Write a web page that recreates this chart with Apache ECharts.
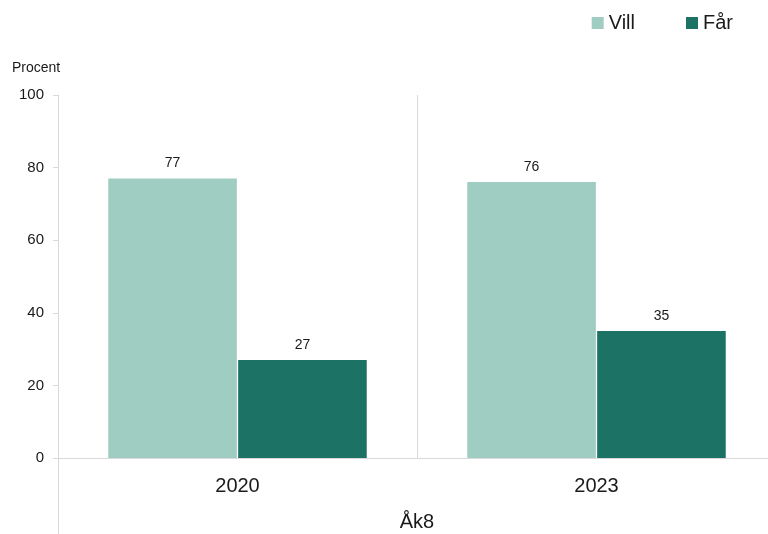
<!DOCTYPE html>
<html>
<head>
<meta charset="utf-8">
<script src="https://cdn.jsdelivr.net/npm/echarts@6/dist/echarts.min.js"></script>
<style>html,body{margin:0;padding:0;background:#fff}#c{width:768px;height:534px}</style>
</head>
<body>
<div id="c"></div>
<script>
const categories = ['2020', '2023'];
const groupLabel = ['Åk8'];
const seriesNames = ['Vill', 'Får'];
const villValues = [77, 76];
const farValues = [27, 35];

const FONT = '"Liberation Sans", Arial, sans-serif';
const LINE = '#d9d9d9';
const TXT = '#1a1a1a';

const chart = echarts.init(document.getElementById('c'));
chart.setOption({
  animation: false,
  textStyle: { fontFamily: FONT },
  legend: {
    right: 30, top: 8,
    itemWidth: 12, itemHeight: 12, itemGap: 51,
    icon: 'rect',
    textStyle: { fontSize: 20, color: TXT, fontFamily: FONT },
    data: seriesNames
  },
  grid: [
    { left: 58, width: 718, top: 95, bottom: 76, outerBoundsMode: 'none', containLabel: false },
    { left: 58, width: 718, top: 458, bottom: 0, outerBoundsMode: 'none', containLabel: false }
  ],
  xAxis: [
    {
      gridIndex: 0, type: 'category', data: categories,
      axisLine: { lineStyle: { color: LINE } },
      axisTick: { show: false },
      splitLine: { show: true, lineStyle: { color: LINE } },
      axisLabel: { fontSize: 20, color: TXT, margin: 18, fontFamily: FONT }
    },
    {
      gridIndex: 1, type: 'category', data: groupLabel,
      axisLine: { show: false }, axisTick: { show: false },
      axisLabel: { fontSize: 20, color: TXT, margin: -22, fontFamily: FONT }
    }
  ],
  yAxis: [
    {
      gridIndex: 0, type: 'value', min: 0, max: 100, interval: 20,
      name: 'Procent', nameLocation: 'end', nameGap: 20,
      nameTextStyle: { fontSize: 14, color: TXT, padding: [0, 44, 0, 0], fontFamily: FONT },
      axisLine: { show: true, lineStyle: { color: LINE } },
      axisTick: { show: true, length: 5, lineStyle: { color: LINE } },
      splitLine: { show: false },
      axisLabel: { fontSize: 15, color: TXT, margin: 14, fontFamily: FONT }
    },
    {
      gridIndex: 1, type: 'value', min: 0, max: 1,
      axisLine: { show: true, lineStyle: { color: LINE } },
      axisTick: { show: false }, axisLabel: { show: false }, splitLine: { show: false }
    }
  ],
  series: [
    {
      name: seriesNames[0], type: 'bar', data: villValues,
      xAxisIndex: 0, yAxisIndex: 0,
      barGap: '1%', barCategoryGap: '28%',
      itemStyle: { color: '#9fcdc2' },
      label: { show: true, position: 'top', distance: 8, fontSize: 14, color: TXT, fontFamily: FONT }
    },
    {
      name: seriesNames[1], type: 'bar', data: farValues,
      xAxisIndex: 0, yAxisIndex: 0,
      barGap: '1%', barCategoryGap: '28%',
      itemStyle: { color: '#1c7365' },
      label: { show: true, position: 'top', distance: 8, fontSize: 14, color: TXT, fontFamily: FONT }
    }
  ]
});
</script>
</body>
</html>
